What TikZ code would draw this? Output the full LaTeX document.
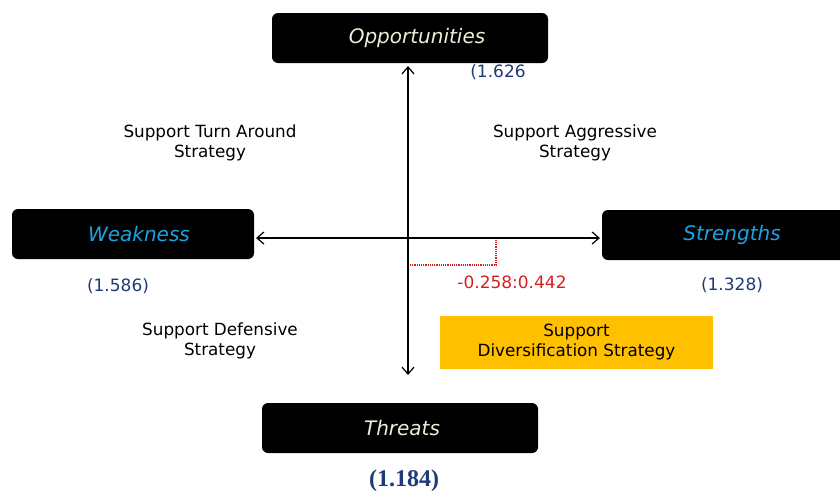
\documentclass[tikz,border=0pt]{standalone}
\usepackage{fontspec}
\setmainfont{DejaVu Sans}
\newfontfamily\serifbold{Liberation Serif}
\usetikzlibrary{arrows.meta}
\definecolor{lbl}{HTML}{EEEED8}
\definecolor{cyanlbl}{HTML}{1AA3E0}
\definecolor{valblue}{HTML}{1F3A78}
\definecolor{redval}{HTML}{D42020}
\definecolor{yel}{HTML}{FFC000}
\tikzset{
  blackbox/.style={fill=black, rounded corners=6pt, minimum width=#1, minimum height=50pt, inner sep=0pt},
  title/.style={font=\fontsize{20}{22}\selectfont\itshape},
  val/.style={text=valblue, font=\fontsize{17}{19}\selectfont},
  strat/.style={align=center, font=\fontsize{16.8}{20}\selectfont},
  axis/.style={line width=1.2pt, {Straight Barb[length=7pt,width=12pt]}-{Straight Barb[length=7pt,width=12pt]}}
}
\begin{document}
\begin{tikzpicture}[x=1pt,y=-1pt]
\useasboundingbox (0,0) rectangle (840,493);
\node[blackbox=276pt] (opp) at (410,38) {};
\node[blackbox=242pt] (weak) at (133,234) {};
\node[blackbox=260pt] (str) at (732,235) {};
\node[blackbox=276pt] (thr) at (400,428) {};
\node[title, text=lbl] (oppt) at (417,38) {Opportunities};
\node[title, text=cyanlbl] (weakt) at (139,234) {Weakness};
\node[title, text=cyanlbl] (strt) at (732,235) {Strengths};
\node[title, text=lbl] (thrt) at (402,428) {Threats};
\clip (0,0) rectangle (840,493);
\coordinate (vt) at (408,66);
\coordinate (vb) at (408,375);
\coordinate (hl) at (256,238);
\coordinate (hr) at (600,238);
\coordinate (c) at (408,238);
\draw[axis] (vb) -- (vt);
\draw[axis] (hl) -- (hr);
\coordinate (p1) at (410,265);
\coordinate (p2) at (496,265);
\coordinate (p3) at (496,239);
\draw[redval, densely dotted, line width=1.2pt] (p1) -- (p2) -- (p3);
\node[text=redval, font=\fontsize{17}{19}\selectfont] (rv) at (512,282) {-0.258:0.442};
\node[val] (ov) at (498,72) {(1.626};
\node[val] (wv) at (118,286) {(1.586)};
\node[val] (sv) at (732,285) {(1.328)};
\node[text=valblue, font=\serifbold\bfseries\fontsize{24}{28}\selectfont] (tv) at (404,481) {(1.184)};
\node[strat] (s1) at (210,143) {Support Turn Around\\Strategy};
\node[strat] (s2) at (575,143) {Support Aggressive\\Strategy};
\node[strat] (s3) at (220,341) {Support Defensive\\Strategy};
\node[fill=yel, minimum width=273pt, minimum height=53pt, inner sep=0pt, strat] (s4) at (576.5,342.5) {Support\\Diversification Strategy};
\end{tikzpicture}
\end{document}
